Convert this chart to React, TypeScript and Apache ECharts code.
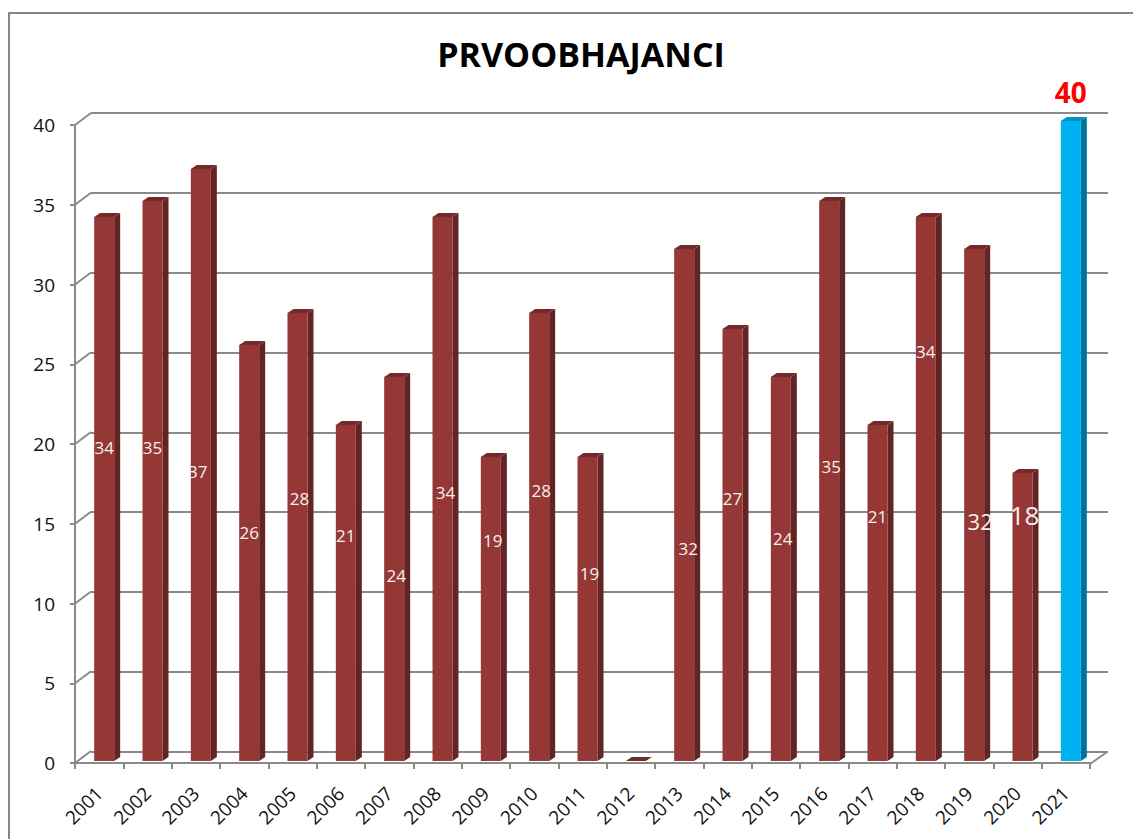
import React, { useEffect, useRef } from "react";
import * as echarts from "echarts";

// ---- data ----
const YEARS = [
  "2001", "2002", "2003", "2004", "2005", "2006", "2007", "2008", "2009", "2010",
  "2011", "2012", "2013", "2014", "2015", "2016", "2017", "2018", "2019", "2020", "2021",
];
const VALUES = [34, 35, 37, 26, 28, 21, 24, 34, 19, 28, 19, 0, 32, 27, 24, 35, 21, 34, 32, 18, 40];
const Y_TICKS = [0, 5, 10, 15, 20, 25, 30, 35, 40];
const TITLE = "PRVOOBHAJANCI";

// label placement (in axis units) as dragged in the original chart
const LABEL_LEVEL: (number | null)[] = [
  19.6, 19.6, 18.1, 14.3, 16.4, 14.1, 11.6, 16.8, 13.8, 16.9,
  11.75, null, 13.3, 16.4, 13.9, 18.4, 15.3, 25.6, 15.0, 15.4, 41.8,
];
const LABEL_DX = [0, 0, -3, 0, 2, 0, 2, 3, 2, 2, 2, 0, 4, 0, 2, 2, 0, 0, 6, 2, 0];
const LABEL_SIZE = [17, 17, 17, 17, 17, 17, 17, 17, 17, 17, 17, 17, 17, 17, 17, 17, 17, 17, 22, 26, 28];
const HIGHLIGHT = 20;

const FONT = '"Open Sans", "Noto Sans", sans-serif';
const GRAY = "#8a8a8a";

function barItem(params: any, api: any) {
  const i = api.value(0);
  const v = api.value(1);
  const top = api.coord([i, v]);
  const base = api.coord([i, 0]);
  const cx = top[0];
  const hw = 10;
  const d = 6;
  const dy = 4;
  const l = cx - hw;
  const r = cx + hw;
  const t = top[1];
  const b = base[1];
  const hi = i === HIGHLIGHT;
  const front = hi ? "#00b0f0" : "#953735";
  const side = hi ? "#00729c" : "#632523";
  const cap = hi ? "#0093c9" : "#742a28";
  const children: any[] = [
    {
      type: "polygon",
      shape: { points: [[r, t], [r + d, t - dy], [r + d, b - dy], [r, b]] },
      style: { fill: side },
    },
    {
      type: "rect",
      shape: { x: l, y: t, width: r - l, height: Math.max(b - t, 0) },
      style: { fill: front },
    },
    {
      type: "polygon",
      shape: { points: [[l, t], [l + d, t - dy], [r + d, t - dy], [r, t]] },
      style: { fill: cap },
    },
  ];
  const lv = LABEL_LEVEL[i];
  if (lv !== null && lv !== undefined) {
    const ly = api.coord([i, lv])[1];
    children.push({
      type: "text",
      x: cx + LABEL_DX[i],
      y: ly,
      style: {
        text: String(v),
        fill: hi ? "#ff0000" : "#f4f0f0",
        font: `${hi ? "bold " : ""}${LABEL_SIZE[i]}px ${FONT}`,
        align: "center",
        verticalAlign: "middle",
      },
    });
  }
  return { type: "group", children };
}

function connectorItem(params: any, api: any) {
  const cs = params.coordSys;
  const v = api.value(1);
  const p = api.coord([0, v]);
  const y = p[1];
  const children: any[] = [
    {
      type: "line",
      shape: { x1: cs.x, y1: y, x2: cs.x + 16, y2: y - 12 },
      style: { stroke: GRAY, lineWidth: 2 },
    },
  ];
  if (v === 0) {
    children.push({
      type: "line",
      shape: { x1: cs.x + cs.width, y1: y + 1, x2: cs.x + cs.width + 17, y2: y - 11 },
      style: { stroke: GRAY, lineWidth: 2 },
    });
  }
  return { type: "group", children };
}

export default function App() {
  const ref = useRef<HTMLDivElement>(null);
  useEffect(() => {
    const chart = echarts.init(ref.current!, null, { renderer: "svg" });
    const option: any = {
      animation: false,
      backgroundColor: "#ffffff",
      title: {
        text: TITLE,
        left: 576,
        top: 32,
        textAlign: "center",
        textStyle: { fontFamily: FONT, fontWeight: "bold", fontSize: 34, color: "#000" },
      },
      graphic: [
        {
          type: "rect",
          shape: { x: 9, y: 13, width: 1200, height: 900 },
          style: { fill: "none", stroke: "#858585", lineWidth: 2 },
          silent: true,
        },
      ],
      grid: [
        // front axes
        { left: 75, top: 125, width: 1015, height: 638 },
        // back wall
        { left: 91, top: 113, width: 1017, height: 638.5 },
        // bars
        { left: 80, top: 121, width: 1015, height: 640 },
      ],
      xAxis: [
        {
          gridIndex: 0,
          type: "category",
          data: YEARS,
          boundaryGap: true,
          axisLine: { show: true, lineStyle: { color: GRAY, width: 2 } },
          axisTick: { show: true, length: 6, lineStyle: { color: GRAY, width: 2 } },
          axisLabel: {
            rotate: 45,
            interval: 0,
            margin: 27,
            fontFamily: FONT,
            fontSize: 19,
            color: "#111",
          },
          splitLine: { show: false },
        },
        { gridIndex: 1, type: "value", min: 0, max: 1, show: false },
        { gridIndex: 2, type: "category", data: YEARS, show: false },
      ],
      yAxis: [
        {
          gridIndex: 0,
          type: "value",
          min: 0,
          max: 40,
          interval: 5,
          axisLine: { show: true, lineStyle: { color: GRAY, width: 2 } },
          axisTick: { show: true, length: 5, lineStyle: { color: GRAY, width: 2 } },
          axisLabel: { margin: 20, fontFamily: FONT, fontSize: 19, color: "#111" },
          splitLine: { show: false },
        },
        {
          gridIndex: 1,
          type: "value",
          min: 0,
          max: 40,
          interval: 5,
          axisLine: { show: false },
          axisTick: { show: false },
          axisLabel: { show: false },
          splitLine: { show: true, lineStyle: { color: GRAY, width: 2 } },
        },
        { gridIndex: 2, type: "value", min: 0, max: 40, show: false },
      ],
      series: [
        {
          type: "custom",
          xAxisIndex: 0,
          yAxisIndex: 0,
          renderItem: connectorItem,
          data: Y_TICKS.map((t) => [0, t]),
          silent: true,
          z: 1,
        },
        {
          type: "custom",
          xAxisIndex: 2,
          yAxisIndex: 2,
          renderItem: barItem,
          data: VALUES.map((v, i) => [i, v]),
          z: 3,
        },
      ],
    };
    chart.setOption(option);
    return () => chart.dispose();
  }, []);
  return (
    <div
      ref={ref}
      style={{ position: "fixed", left: 0, top: 0, width: 1133, height: 839, background: "#fff" }}
    />
  );
}
